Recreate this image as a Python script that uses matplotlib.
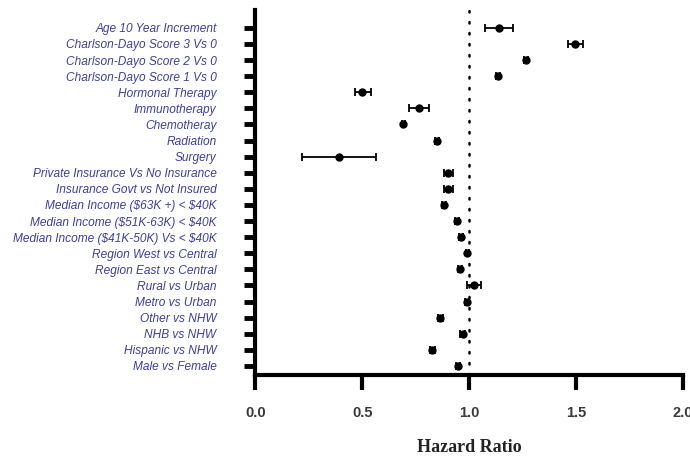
import matplotlib
matplotlib.use("Agg")
import matplotlib.pyplot as plt
import numpy as np

labels = [
    "Age 10 Year Increment",
    "Charlson-Dayo Score 3 Vs 0",
    "Charlson-Dayo Score 2 Vs 0",
    "Charlson-Dayo Score 1 Vs 0",
    "Hormonal Therapy",
    "Immunotherapy",
    "Chemotheray",
    "Radiation",
    "Surgery",
    "Private Insurance Vs No Insurance",
    "Insurance Govt vs Not Insured",
    "Median Income ($63K +) < $40K",
    "Median Income ($51K-63K) < $40K",
    "Median Income ($41K-50K) Vs < $40K",
    "Region West vs Central",
    "Region East vs Central",
    "Rural vs Urban",
    "Metro vs Urban",
    "Other vs NHW",
    "NHB vs NHW",
    "Hispanic vs NHW",
    "Male vs Female",
]
hr = [1.14, 1.496, 1.265, 1.134, 0.501, 0.764, 0.692, 0.851, 0.389, 0.903,
      0.903, 0.881, 0.943, 0.962, 0.992, 0.957, 1.021, 0.990, 0.865, 0.970,
      0.828, 0.949]
ci_low = [1.073, 1.463, 1.255, 1.124, 0.464, 0.717, 0.684, 0.841, 0.219, 0.882,
          0.882, 0.872, 0.934, 0.953, 0.983, 0.948, 0.990, 0.981, 0.853, 0.958,
          0.815, 0.940]
ci_high = [1.206, 1.530, 1.275, 1.144, 0.540, 0.812, 0.700, 0.861, 0.562, 0.923,
           0.923, 0.890, 0.952, 0.971, 1.001, 0.966, 1.056, 0.999, 0.877, 0.982,
           0.841, 0.958]
xticks = [0.0, 0.5, 1.0, 1.5, 2.0]

hr = np.array(hr)
y = np.arange(len(labels))
err = np.vstack([hr - np.array(ci_low), np.array(ci_high) - hr])

fig = plt.figure(figsize=(6.9, 4.59), dpi=100)
ax = fig.add_axes([0.370, 0.183, 0.620, 0.795])

ax.axvline(1.0, color="black", linewidth=1.8, linestyle=(0, (0.6, 3.8)),
           dash_capstyle="round", zorder=1)
ax.errorbar(hr, y, xerr=err, fmt="o", color="black", markersize=5,
            elinewidth=1.3, capsize=3, capthick=1.3, zorder=3)

ax.set_xlim(0, 2)
ax.set_ylim(len(labels) - 1 + 0.56, -1.1)
ax.set_xticks(xticks)
ax.set_xticklabels([f"{t:.1f}" for t in xticks], fontsize=10.5,
                   fontweight="bold", family="Liberation Sans", color="#3a3a3a")
ax.set_yticks(y)
# escape dollar signs so they are not read as mathtext
ax.set_yticklabels([s.replace("$", r"\$") for s in labels], fontsize=8.6,
                   style="italic", family="Liberation Sans", color="#3c3f9c")

for side in ["top", "right"]:
    ax.spines[side].set_visible(False)
for side in ["left", "bottom"]:
    ax.spines[side].set_linewidth(3)
ax.tick_params(axis="y", length=8, width=3.5, pad=20)
ax.tick_params(axis="x", length=11, width=3, pad=11)

ax.set_xlabel("Hazard Ratio", fontsize=13, fontweight="bold",
              family="Liberation Serif", color="#222222", labelpad=14)

fig.savefig("out.png", dpi=100)
